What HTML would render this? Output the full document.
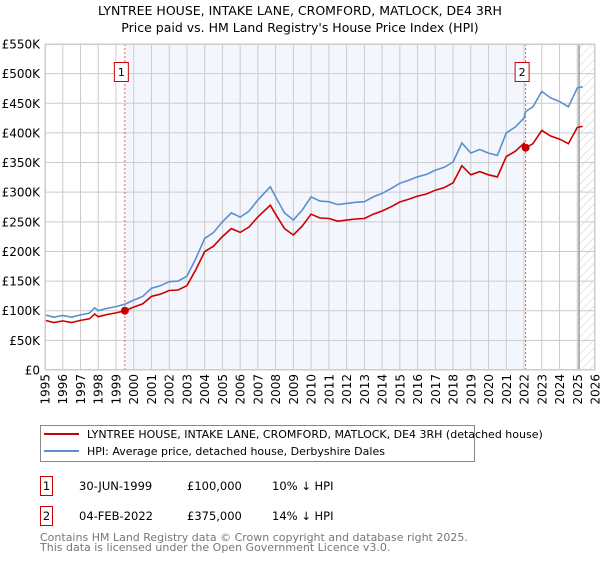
<!DOCTYPE html>
<html><head><meta charset="utf-8"><style>
body{margin:0;background:#fff;width:600px;height:560px;overflow:hidden;font-family:"DejaVu Sans","Liberation Sans",sans-serif}
svg text{font-family:"DejaVu Sans","Liberation Sans",sans-serif}
</style></head><body>
<svg id="chart" width="600" height="560" xmlns="http://www.w3.org/2000/svg">
<defs><pattern id="hatch" width="6" height="6" patternUnits="userSpaceOnUse" patternTransform="rotate(45)"><line x1="0" y1="0" x2="0" y2="6" stroke="#ccc" stroke-width="1"/></pattern></defs>
<text x="300" y="15" text-anchor="middle" font-size="12.5">LYNTREE HOUSE, INTAKE LANE, CROMFORD, MATLOCK, DE4 3RH</text>
<text x="300" y="32" text-anchor="middle" font-size="12.5">Price paid vs. HM Land Registry's House Price Index (HPI)</text>
<g id="plot"></g>
<g>
<rect x="40.5" y="425.5" width="434" height="36" fill="#fff" stroke="#888"/>
<line x1="44" y1="434" x2="79" y2="434" stroke="#cc0000" stroke-width="2"/>
<text x="87" y="438" font-size="11">LYNTREE HOUSE, INTAKE LANE, CROMFORD, MATLOCK, DE4 3RH (detached house)</text>
<line x1="44" y1="451" x2="79" y2="451" stroke="#5b8fd0" stroke-width="2"/>
<text x="87" y="455" font-size="11">HPI: Average price, detached house, Derbyshire Dales</text>
</g>
<g font-size="11.5">
<rect x="40.5" y="476.5" width="12" height="19" fill="none" stroke="#cc0000"/>
<text x="46.5" y="490" text-anchor="middle">1</text>
<text x="79" y="490">30-JUN-1999</text><text x="187" y="490">£100,000</text><text x="272" y="490">10% ↓ HPI</text>
</g>
<g font-size="11.5">
<rect x="40.5" y="506.5" width="12" height="19" fill="none" stroke="#cc0000"/>
<text x="46.5" y="520" text-anchor="middle">2</text>
<text x="79" y="520">04-FEB-2022</text><text x="187" y="520">£375,000</text><text x="272" y="520">14% ↓ HPI</text>
</g>
<text x="40" y="541" font-size="11" fill="#777">Contains HM Land Registry data © Crown copyright and database right 2025.</text>
<text x="40" y="551" font-size="11" fill="#777">This data is licensed under the Open Government Licence v3.0.</text>
</svg>
<script>
const yTicks=[0,50,100,150,200,250,300,350,400,450,500,550];
const yTickLabels=["£0","£50K","£100K","£150K","£200K","£250K","£300K","£350K","£400K","£450K","£500K","£550K"];
const xTicks=[1995,1996,1997,1998,1999,2000,2001,2002,2003,2004,2005,2006,2007,2008,2009,2010,2011,2012,2013,2014,2015,2016,2017,2018,2019,2020,2021,2022,2023,2024,2025,2026];
const hpiYears=[1995,1995.5,1996,1996.5,1997,1997.5,1997.8,1998,1998.5,1999,1999.5,2000,2000.5,2001,2001.5,2002,2002.5,2003,2003.5,2004,2004.5,2005,2005.5,2006,2006.5,2007,2007.7,2008,2008.5,2009,2009.5,2010,2010.5,2011,2011.5,2012,2012.5,2013,2013.5,2014,2014.5,2015,2015.5,2016,2016.5,2017,2017.5,2018,2018.5,2019,2019.5,2020,2020.5,2021,2021.5,2022,2022.09,2022.5,2023,2023.5,2024,2024.5,2025,2025.3];
const hpiValues=[93,89,92,89,93,96,105,100,104,107,111,118,124,138,142,149,150,158,188,222,232,250,265,258,268,287,309,292,265,253,270,292,285,284,279,281,283,284,292,298,306,315,320,326,330,337,342,351,383,366,372,366,362,400,410,425,436,444,470,459,453,444,476,478];
const saleYears=[1999.5,2022.09];
const salePrices=[100,375];
const saleRatios=[0.9,0.86];
const X0=45,X1=595,Y0=370,Y1=44;
const xs=y=>X0+(y-1995)*(X1-X0)/31;
const ys=v=>Y0-v*(Y0-Y1)/550;
const NS="http://www.w3.org/2000/svg";
const g=document.getElementById('plot');
function mk(t,a){const e=document.createElementNS(NS,t);for(const k in a)e.setAttribute(k,a[k]);g.appendChild(e);return e;}
let e;
e=mk('rect',{x:xs(saleYears[0]),y:Y1,width:xs(saleYears[1])-xs(saleYears[0]),height:Y0-Y1,fill:'#f3f6fd'});


e=mk('rect',{x:xs(2025.1),y:Y1,width:X1-xs(2025.1),height:Y0-Y1,fill:'url(#hatch)'});


xTicks.forEach((t,i)=>{
 e=mk('line',{x1:xs(t),x2:xs(t),y1:Y1,y2:Y0,stroke:'#ccc','stroke-width':1});
 
 
 const tx=xs(t)+4.5;
 e=mk('text',{x:tx,y:374,'text-anchor':'end','font-size':12,transform:'rotate(-90 '+tx+' 374)'});
 e.textContent=t;
 
 
});
yTicks.forEach((t,i)=>{
 e=mk('line',{x1:X0,x2:X1,y1:ys(t),y2:ys(t),stroke:'#ccc','stroke-width':1});
 
 
 e=mk('text',{x:40,y:ys(t)+4.5,'text-anchor':'end','font-size':12});
 e.textContent=yTickLabels[i];
 
 
});
e=mk('line',{x1:xs(2025.1),x2:xs(2025.1),y1:Y1,y2:Y0,stroke:'#999','stroke-width':1.5});


saleYears.forEach((s,i)=>{
 e=mk('line',{x1:xs(s),x2:xs(s),y1:Y1,y2:Y0,stroke:'#e06060','stroke-width':1,'stroke-dasharray':'2,2'});
 
 
});
const hp=hpiYears.map((y,i)=>xs(y).toFixed(1)+','+ys(hpiValues[i]).toFixed(1)).join(' ');
e=mk('polyline',{points:hp,fill:'none',stroke:'#5b8fd0','stroke-width':1.6});


const rp=hpiYears.map((y,i)=>{const r=y<saleYears[1]?saleRatios[0]:saleRatios[1];return xs(y).toFixed(1)+','+ys(hpiValues[i]*r).toFixed(1);}).join(' ');
e=mk('polyline',{points:rp,fill:'none',stroke:'#cc0000','stroke-width':1.6});


saleYears.forEach((s,i)=>{
 e=mk('circle',{cx:xs(s),cy:ys(salePrices[i]),r:4,fill:'#cc0000'});
 
 
 e=mk('rect',{x:xs(s)-10.5,y:62.5,width:14,height:19,fill:'#fff',stroke:'#cc0000'});
 
 
 e=mk('text',{x:xs(s)-3.5,y:76,'text-anchor':'middle','font-size':11});
 e.textContent=String(i+1);
 
 
});
e=mk('rect',{x:X0+0.5,y:Y1+0.5,width:X1-X0-1,height:Y0-Y1-1,fill:'none',stroke:'#ccc'});


</script>
</body></html>
